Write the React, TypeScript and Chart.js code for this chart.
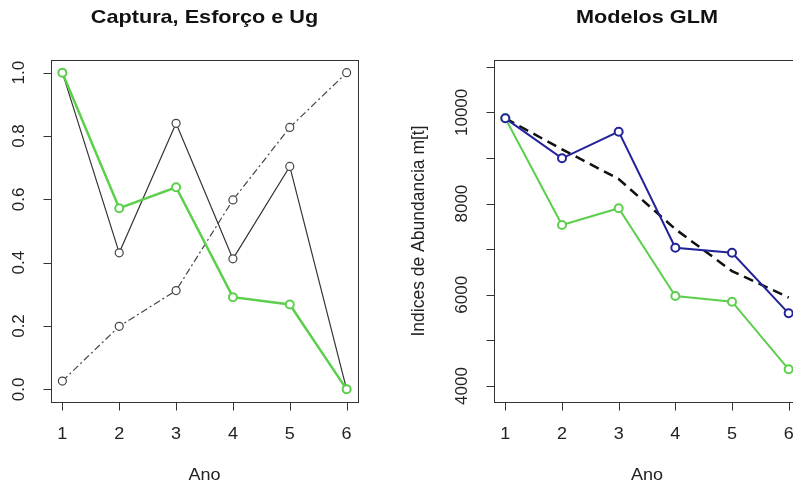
import React, { useEffect, useRef } from 'react';
import { Chart, registerables } from 'chart.js';

Chart.register(...registerables);

// ---------- data ----------
const anos = [1, 2, 3, 4, 5, 6];

// left panel: "Captura, Esforço e Ug" (scaled 0..1)
const captura = [1.0, 0.572, 0.638, 0.291, 0.268, 0.0];
const esforco = [1.0, 0.431, 0.84, 0.412, 0.704, 0.0];
const ug = [0.026, 0.199, 0.312, 0.598, 0.827, 1.0];

// right panel: "Modelos GLM"
const glmAzul = [9870, 8993, 9577, 7033, 6923, 5594];
const glmVerde = [9870, 7531, 7897, 5974, 5849, 4366];
const glmTendencia = [9870, 9190, 8540, 7440, 6520, 5940];

const xTicks = [1, 2, 3, 4, 5, 6];
const xTickLabels = ['1', '2', '3', '4', '5', '6'];
const leftYTicks = [0, 0.2, 0.4, 0.6, 0.8, 1.0];
const leftYTickLabels = ['0.0', '0.2', '0.4', '0.6', '0.8', '1.0'];
const rightYTicks = [4000, 5000, 6000, 7000, 8000, 9000, 10000, 11000];
const rightYTickLabels = ['4000', '', '6000', '', '8000', '', '10000', ''];

const GREEN = '#5ccf4c';
const BLUE = '#23239a';
const FONT = '"Liberation Sans", Arial, Helvetica, sans-serif';

const pts = (ys: number[]) => anos.map((a, i) => ({ x: a, y: ys[i] }));

function stretchText(ctx: any, text: string, x: number, y: number, sx: number) {
  ctx.save();
  ctx.translate(x, y);
  ctx.scale(sx, 1);
  ctx.fillText(text, 0, 0);
  ctx.restore();
}

const rAxes = {
  id: 'rAxes',
  afterDraw(chart: any, _args: any, o: any) {
    const { ctx, chartArea: a, scales } = chart;
    const xs = scales.x;
    const ys = scales.y;
    const L = Math.round(a.left) + 0.5;
    const R = Math.round(a.right) + 0.5;
    const T = Math.round(a.top) + 0.5;
    const B = Math.round(a.bottom) + 0.5;
    ctx.save();
    ctx.strokeStyle = '#333';
    ctx.lineWidth = 1;
    ctx.setLineDash([]);
    ctx.strokeRect(L, T, R - L, B - T);
    const tl = 8;
    ctx.beginPath();
    o.xTicks.forEach((v: number) => {
      const px = Math.round(xs.getPixelForValue(v)) + 0.5;
      ctx.moveTo(px, B);
      ctx.lineTo(px, B + tl);
    });
    o.yTicks.forEach((v: number) => {
      const py = Math.round(ys.getPixelForValue(v)) + 0.5;
      ctx.moveTo(L, py);
      ctx.lineTo(L - tl, py);
    });
    ctx.stroke();

    ctx.fillStyle = '#222';
    ctx.font = `17px ${FONT}`;
    ctx.textAlign = 'center';
    ctx.textBaseline = 'middle';
    o.xTicks.forEach((v: number, i: number) => {
      stretchText(ctx, o.xLabels[i], xs.getPixelForValue(v), a.bottom + 32, 1.06);
    });
    o.yTicks.forEach((v: number, i: number) => {
      const lab = o.yLabels[i];
      if (!lab) return;
      ctx.save();
      ctx.translate(a.left - 32, ys.getPixelForValue(v));
      ctx.rotate(-Math.PI / 2);
      ctx.fillText(lab, 0, 0);
      ctx.restore();
    });
    // axis titles
    stretchText(ctx, o.xTitle, (a.left + a.right) / 2, a.bottom + 73, 1.06);
    if (o.yTitle) {
      ctx.save();
      ctx.font = `17.5px ${FONT}`;
      ctx.translate(a.left - 75, (a.top + a.bottom) / 2);
      ctx.rotate(-Math.PI / 2);
      ctx.fillText(o.yTitle, 0, 0);
      ctx.restore();
    }
    // main title
    ctx.fillStyle = '#111';
    ctx.font = `bold 19px ${FONT}`;
    stretchText(ctx, o.title, (a.left + a.right) / 2, 18, 1.14);
    ctx.restore();
  },
};

function PanelChart(props: { config: any; width: number; height: number; left: number }) {
  const ref = useRef<HTMLCanvasElement | null>(null);
  useEffect(() => {
    if (!ref.current) return;
    const chart = new Chart(ref.current, props.config);
    return () => chart.destroy();
  }, []);
  return (
    <canvas
      ref={ref}
      width={props.width}
      height={props.height}
      style={{
        position: 'absolute',
        left: props.left,
        top: 0,
        width: props.width,
        height: props.height,
        display: 'block',
      }}
    />
  );
}

const leftConfig = {
  type: 'line',
  data: {
    datasets: [
      {
        label: 'Captura',
        data: pts(captura),
        borderColor: GREEN,
        borderWidth: 2.5,
        pointRadius: 4,
        pointBorderWidth: 2,
        pointBorderColor: GREEN,
        pointBackgroundColor: '#fff',
        tension: 0,
      },
      {
        label: 'Esforço',
        data: pts(esforco),
        borderColor: '#333',
        borderWidth: 1.2,
        pointRadius: 4,
        pointBorderWidth: 1.2,
        pointBorderColor: '#444',
        pointBackgroundColor: '#fff',
        tension: 0,
      },
      {
        label: 'Ug',
        data: pts(ug),
        borderColor: '#444',
        borderWidth: 1.2,
        borderDash: [7, 3, 2, 3],
        pointRadius: 4,
        pointBorderWidth: 1.2,
        pointBorderColor: '#444',
        pointBackgroundColor: '#fff',
        tension: 0,
      },
    ],
  },
  options: {
    animation: false,
    responsive: false,
    layout: { padding: { left: 51, right: 38, top: 60, bottom: 86 } },
    plugins: {
      legend: { display: false },
      tooltip: { enabled: false },
      rAxes: {
        title: 'Captura, Esforço e Ug',
        xTitle: 'Ano',
        yTitle: '',
        xTicks,
        xLabels: xTickLabels,
        yTicks: leftYTicks,
        yLabels: leftYTickLabels,
      },
    },
    scales: {
      x: { type: 'linear', min: 0.8, max: 6.2, display: false },
      y: { type: 'linear', min: -0.04, max: 1.04, display: false },
    },
  },
  plugins: [rAxes],
};

const rightConfig = {
  type: 'line',
  data: {
    datasets: [
      {
        label: 'GLM azul',
        data: pts(glmAzul),
        borderColor: BLUE,
        borderWidth: 2,
        pointRadius: 4,
        pointBorderWidth: 2,
        pointBorderColor: BLUE,
        pointBackgroundColor: '#fff',
        tension: 0,
      },
      {
        label: 'Tendência',
        data: pts(glmTendencia),
        borderColor: '#111',
        borderWidth: 2.5,
        borderDash: [10, 6],
        pointRadius: 0,
        tension: 0,
      },
      {
        label: 'GLM verde',
        data: pts(glmVerde),
        borderColor: GREEN,
        borderWidth: 2,
        pointRadius: 4,
        pointBorderWidth: 2,
        pointBorderColor: GREEN,
        pointBackgroundColor: '#fff',
        tension: 0,
      },
    ],
  },
  options: {
    animation: false,
    responsive: false,
    layout: { padding: { left: 98, right: 16, top: 60, bottom: 86 } },
    plugins: {
      legend: { display: false },
      tooltip: { enabled: false },
      rAxes: {
        title: 'Modelos GLM',
        xTitle: 'Ano',
        yTitle: 'Indices de Abundancia m[t]',
        xTicks,
        xLabels: xTickLabels,
        yTicks: rightYTicks,
        yLabels: rightYTickLabels,
      },
    },
    scales: {
      x: { type: 'linear', min: 0.8, max: 6.2, display: false },
      y: { type: 'linear', min: 3649, max: 11149, display: false },
    },
  },
  plugins: [rAxes],
};

export default function App() {
  return (
    <div
      style={{
        position: 'fixed',
        left: 0,
        top: 0,
        width: 793,
        height: 488,
        overflow: 'hidden',
        background: '#fff',
      }}
    >
      <PanelChart config={leftConfig} width={396} height={488} left={0} />
      <PanelChart config={rightConfig} width={420} height={488} left={396} />
    </div>
  );
}
